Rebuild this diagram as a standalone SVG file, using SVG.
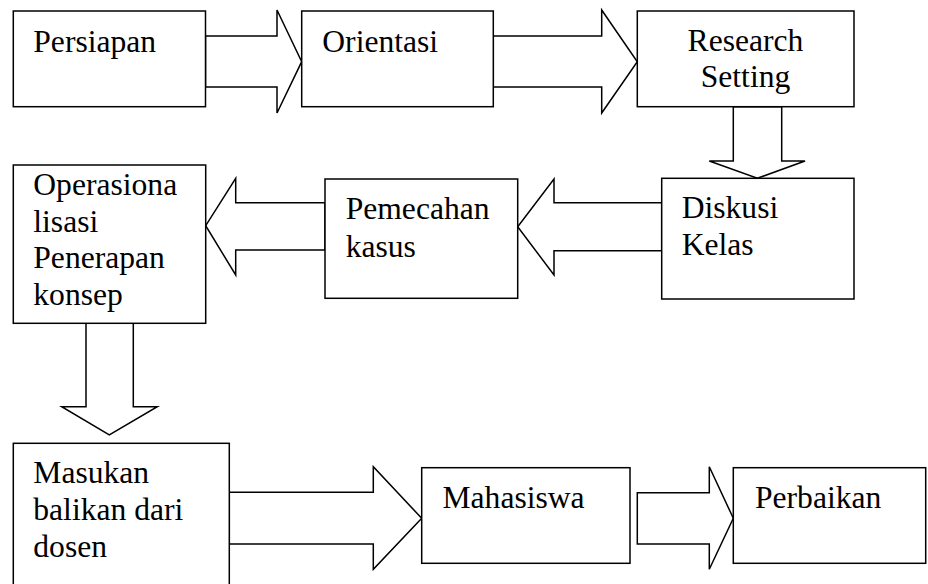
<svg xmlns="http://www.w3.org/2000/svg" width="928" height="584" viewBox="0 0 928 584">
<style>
.box{fill:#fff;stroke:#000;stroke-width:1.5}
.arr{fill:#fff;stroke:#000;stroke-width:1.5;stroke-linejoin:miter}
.t{font-family:'Liberation Serif','DejaVu Serif',serif;font-size:31.6px;fill:#000}
</style>
<rect width="928" height="584" fill="#fff"/>
<g id="connectors">
<polygon class="arr" points="205.5,36 277,36 277,10 301.7,61.7 277,113 277,87 205.5,87"/>
<polygon class="arr" points="493.3,36 601.7,36 601.7,10 637.3,61.7 601.7,113 601.7,87 493.3,87"/>
<polygon class="arr" points="733.3,106.7 781.7,106.7 781.7,161 805,161 757.3,178.3 709.3,161 733.3,161"/>
<polygon class="arr" points="661.7,202.7 554,202.7 554,179 517.7,226.7 554,275 554,250.7 661.7,250.7"/>
<polygon class="arr" points="325,202.7 235.7,202.7 235.7,178.3 205.7,225.7 235.7,275 235.7,250 325,250"/>
<polygon class="arr" points="86,323.3 133.3,323.3 133.3,406.7 157.3,406.7 109.3,435 61.7,406.7 86,406.7"/>
<polygon class="arr" points="229.3,492.3 373.3,492.3 373.3,466.7 421.7,518.3 373.3,569.3 373.3,544 229.3,544"/>
<polygon class="arr" points="637.3,492.7 709.3,492.7 709.3,466.7 733.3,518.3 709.3,569.3 709.3,544 637.3,544"/>
</g>
<g id="persiapan">
<rect class="box" x="13.3" y="11" width="192.2" height="95.7"/>
<text class="t" x="33.3" y="51.7" font-family="Liberation Serif, serif">Persiapan</text>
</g>
<g id="orientasi">
<rect class="box" x="301.7" y="11" width="191.6" height="95.7"/>
<text class="t" x="322.3" y="52">Orientasi</text>
</g>
<g id="research-setting">
<rect class="box" x="637.3" y="11" width="216.7" height="95.7"/>
<text class="t" x="745.5" y="50.7" text-anchor="middle">Research</text>
<text class="t" x="745.5" y="87.3" text-anchor="middle">Setting</text>
</g>
<g id="diskusi-kelas">
<rect class="box" x="661.7" y="178.3" width="192.3" height="120.7"/>
<text class="t" x="681.7" y="218.3">Diskusi</text>
<text class="t" x="681.7" y="255">Kelas</text>
</g>
<g id="pemecahan-kasus">
<rect class="box" x="325" y="179" width="192.7" height="119.3"/>
<text class="t" x="345.7" y="219.3">Pemecahan</text>
<text class="t" x="345.7" y="256.7">kasus</text>
</g>
<g id="operasionalisasi">
<rect class="box" x="13.3" y="165" width="192.4" height="158.3"/>
<text class="t" x="33.3" y="195">Operasiona</text>
<text class="t" x="33.3" y="231.7">lisasi</text>
<text class="t" x="33.3" y="268.3">Penerapan</text>
<text class="t" x="33.3" y="305">konsep</text>
</g>
<g id="masukan">
<rect class="box" x="13.3" y="443.3" width="216" height="150"/>
<text class="t" x="33.3" y="483.3">Masukan</text>
<text class="t" x="33.3" y="520">balikan dari</text>
<text class="t" x="33.3" y="556.7">dosen</text>
</g>
<g id="mahasiswa">
<rect class="box" x="421.7" y="467.7" width="208.3" height="95.6"/>
<text class="t" x="442.5" y="508.3">Mahasiswa</text>
</g>
<g id="perbaikan">
<rect class="box" x="733.3" y="467.7" width="192.4" height="95.6"/>
<text class="t" x="755" y="508.3">Perbaikan</text>
</g>
</svg>
